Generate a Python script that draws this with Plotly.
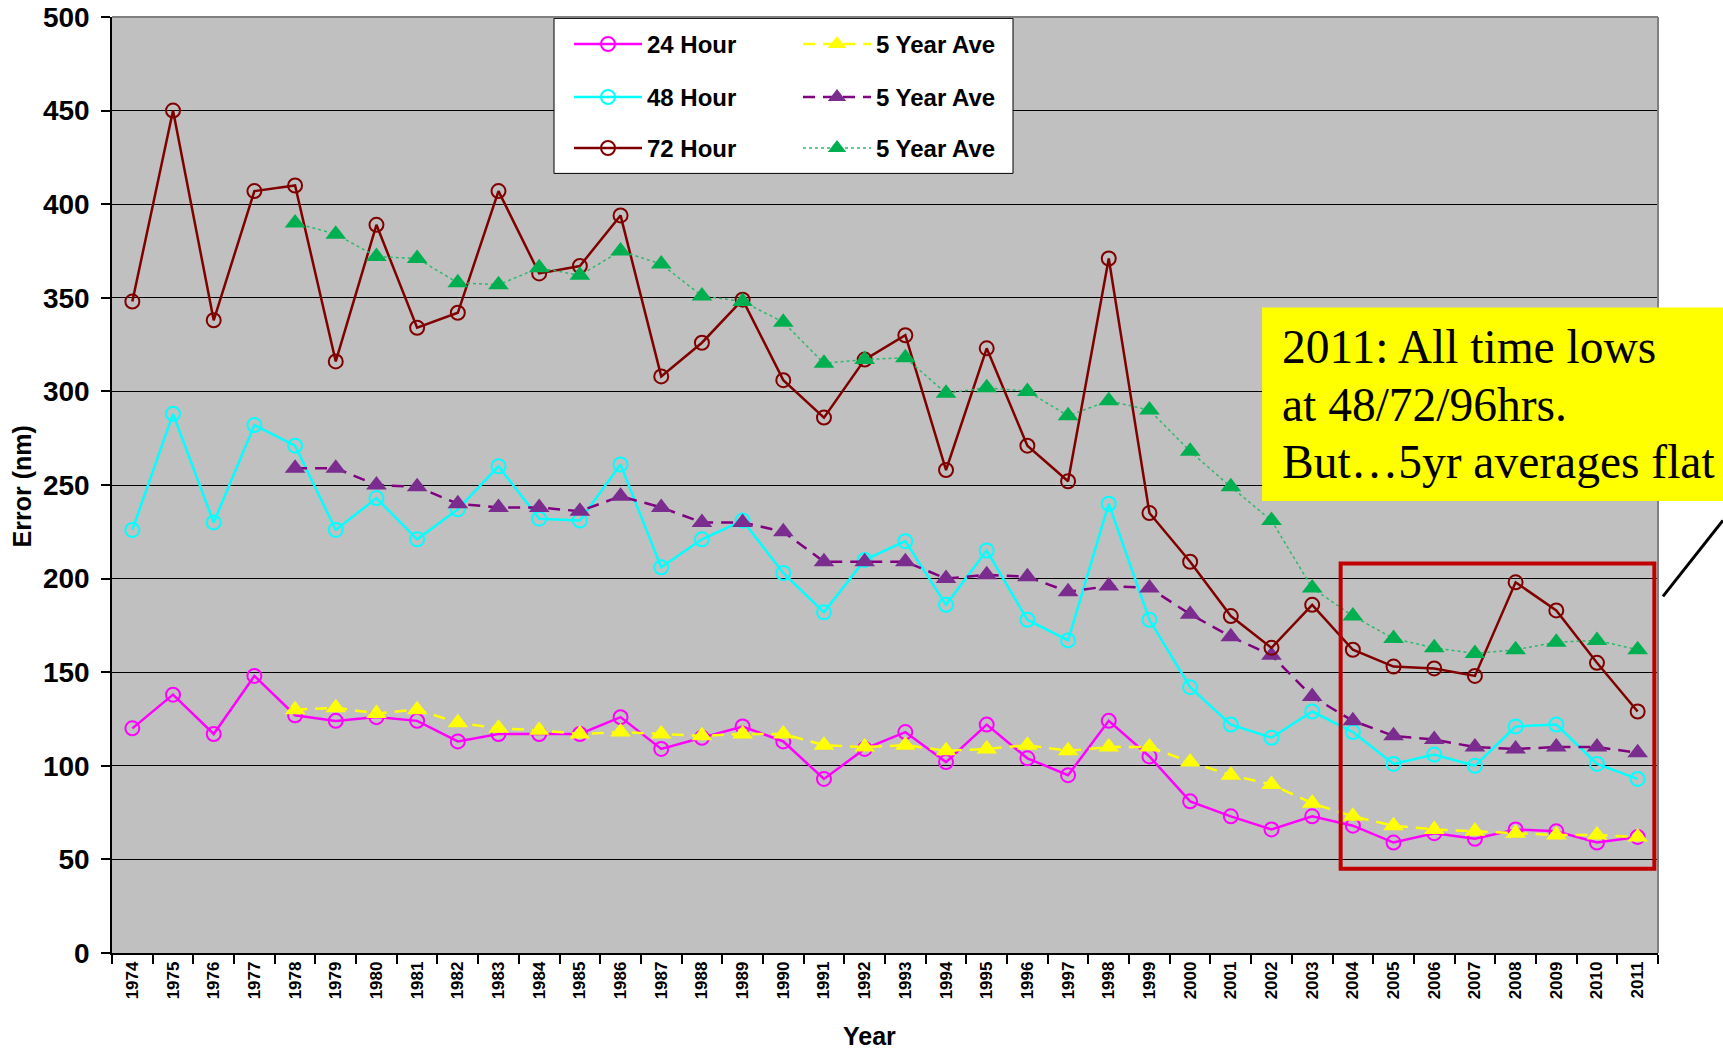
import plotly.graph_objects as go

years = [str(y) for y in range(1974, 2012)]

h24 = [120, 138, 117, 148, 127, 124, 126, 124, 113, 117, 117, 117,
       126, 109, 115, 121, 113, 93, 109, 118, 102, 122, 104, 95,
       124, 105, 81, 73, 66, 73, 68, 59, 64, 61, 66, 65, 59, 62]
h48 = [226, 288, 230, 282, 271, 226, 243, 221, 237, 260, 232, 231,
       261, 206, 221, 231, 203, 182, 210, 220, 186, 215, 178, 167,
       240, 178, 142, 122, 115, 129, 118, 101, 106, 100, 121, 122, 101, 93]
h72 = [348, 450, 338, 407, 410, 316, 389, 334, 342, 407, 363, 367,
       394, 308, 326, 349, 306, 286, 317, 330, 258, 323, 271, 252,
       371, 235, 209, 180, 163, 186, 162, 153, 152, 148, 198, 183, 155, 129]

ave_years = years[4:]
ave24 = [130, 131, 128, 130, 123, 120, 119, 117, 118, 117, 116, 117,
         117, 111, 110, 111, 108, 109, 111, 108, 110, 110, 102, 95,
         90, 80, 73, 68, 66, 65, 64, 63, 63, 62]
ave48 = [259, 259, 250, 249, 240, 238, 238, 236, 244, 238, 230, 230,
         225, 209, 209, 209, 200, 202, 201, 193, 196, 195, 181, 169,
         159, 137, 124, 116, 114, 110, 109, 110, 110, 107]
ave72 = [390, 384, 372, 371, 358, 357, 366, 362, 375, 368, 351, 348,
         337, 315, 317, 318, 299, 302, 300, 287, 295, 290, 268, 249,
         231, 195, 180, 168, 163, 160, 162, 166, 167, 162]

note_lines = ["2011: All time lows", "at 48/72/96hrs.", "But\u20265yr averages flat"]

FONT = "Liberation Sans, Arial, sans-serif"
SERIF = "Liberation Serif, Times New Roman, serif"

fig = go.Figure()

def obs(name, y, color, legend):
    fig.add_trace(go.Scatter(
        x=years, y=y, name=name, mode="lines+markers", legend=legend,
        line=dict(color=color, width=2.5),
        marker=dict(symbol="circle-open", size=14, color=color, line=dict(width=2, color=color)),
    ))

def ave(name, y, lcolor, mcolor, dash, width, legend):
    fig.add_trace(go.Scatter(
        x=ave_years, y=y, name=name, mode="lines+markers", legend=legend,
        line=dict(color=lcolor, width=width, dash=dash),
        marker=dict(symbol="triangle-up", size=18, color=mcolor, line=dict(width=0)),
    ))

obs("24 Hour", h24, "#FF00FF", "legend")
ave("5 Year Ave", ave24, "#FFFF00", "#FFFF00", "12px,8px", 2.5, "legend")
obs("48 Hour", h48, "#00FFFF", "legend2")
ave("5 Year Ave", ave48, "#800080", "#7B2C8F", "12px,8px", 2.5, "legend2")
obs("72 Hour", h72, "#800000", "legend3")
ave("5 Year Ave", ave72, "#2EB86A", "#00B050", "3px,3px", 1.5, "legend3")

# right-hand value labels for 2011
for series in (h72, h48, h24):
    fig.add_annotation(x=years[-1], y=series[-1], xref="x", yref="y",
                       text=str(series[-1]), showarrow=False, xanchor="left",
                       xshift=22, font=dict(family=FONT, size=22, color="black"))

shapes = [
    # legend box
    dict(type="rect", xref="paper", yref="paper", x0=0.2859, x1=0.5828, y0=0.8329, y1=0.9985,
         fillcolor="white", line=dict(color="black", width=1), layer="above"),
    # red highlight box
    dict(type="rect", xref="x", yref="y", x0=29.7, x1=37.41, y0=45, y1=208,
         line=dict(color="#C00000", width=4), fillcolor="rgba(0,0,0,0)", layer="above"),
    # top / right plot frame
    dict(type="line", xref="paper", yref="paper", x0=0, x1=1, y0=1, y1=1,
         line=dict(color="#808080", width=2), layer="above"),
    dict(type="line", xref="paper", yref="paper", x0=1, x1=1, y0=0, y1=1,
         line=dict(color="#808080", width=2), layer="above"),
    # yellow callout box
    dict(type="rect", xref="paper", yref="paper", x0=0.7439, x1=1.05, y0=0.483, y1=0.6897,
         fillcolor="#FFFF00", line=dict(width=0), layer="above"),
    # pointer line
    dict(type="line", xref="paper", yref="paper", x0=1.0032, y0=0.381, x1=1.042, y1=0.4622,
         line=dict(color="black", width=3), layer="above"),
]

for txt, yp in zip(note_lines, [0.647, 0.586, 0.525]):
    fig.add_annotation(x=0.7555, y=yp, xref="paper", yref="paper", text=txt, showarrow=False,
                       xanchor="left", yanchor="middle",
                       font=dict(family=SERIF, size=47.5, color="black"))

# axis titles
fig.add_annotation(x=0.4897, y=-0.089, xref="paper", yref="paper", text="Year", showarrow=False,
                   xanchor="center", yanchor="middle",
                   font=dict(family=FONT, size=25, color="black", weight="bold"))
fig.add_annotation(x=-0.0582, y=0.4985, xref="paper", yref="paper", text="Error (nm)", showarrow=False,
                   textangle=-90, xanchor="center", yanchor="middle",
                   font=dict(family=FONT, size=25, color="black", weight="bold"))

leg_common = dict(orientation="h", entrywidth=146, entrywidthmode="pixels", itemwidth=68,
                  bgcolor="rgba(0,0,0,0)", borderwidth=0, x=0.2956, xanchor="left",
                  yanchor="middle", font=dict(family=FONT, size=24, color="black", weight="bold"))

fig.update_layout(
    width=1723, height=1050,
    margin=dict(l=112, r=65, t=17, b=97, autoexpand=False),
    paper_bgcolor="white",
    plot_bgcolor="#C0C0C0",
    font=dict(family=FONT, color="black"),
    shapes=shapes,
    legend=dict(y=0.9707, **leg_common),
    legend2=dict(y=0.9141, **leg_common),
    legend3=dict(y=0.8596, **leg_common),
    xaxis=dict(
        type="category", range=[-0.5, 37.5], tickangle=-90, tickson="boundaries",
        ticks="outside", ticklen=9, tickcolor="black", tickwidth=1.5,
        showline=True, linecolor="black", linewidth=1.5, showgrid=False, automargin=False,
        tickfont=dict(family=FONT, size=17, color="black", weight="bold"),
    ),
    yaxis=dict(
        range=[0, 500], dtick=50, tick0=0, automargin=False,
        ticks="outside", ticklen=9, tickcolor="black", tickwidth=1.5, ticklabelstandoff=6,
        showline=True, linecolor="black", linewidth=1.5,
        showgrid=True, gridcolor="black", gridwidth=1.3, zeroline=False,
        tickfont=dict(family=FONT, size=28, color="black", weight="bold"),
    ),
)

fig.write_html("out.html", config={"displayModeBar": False},
               post_script="document.body.style.margin='0px';document.body.style.overflow='hidden';")
